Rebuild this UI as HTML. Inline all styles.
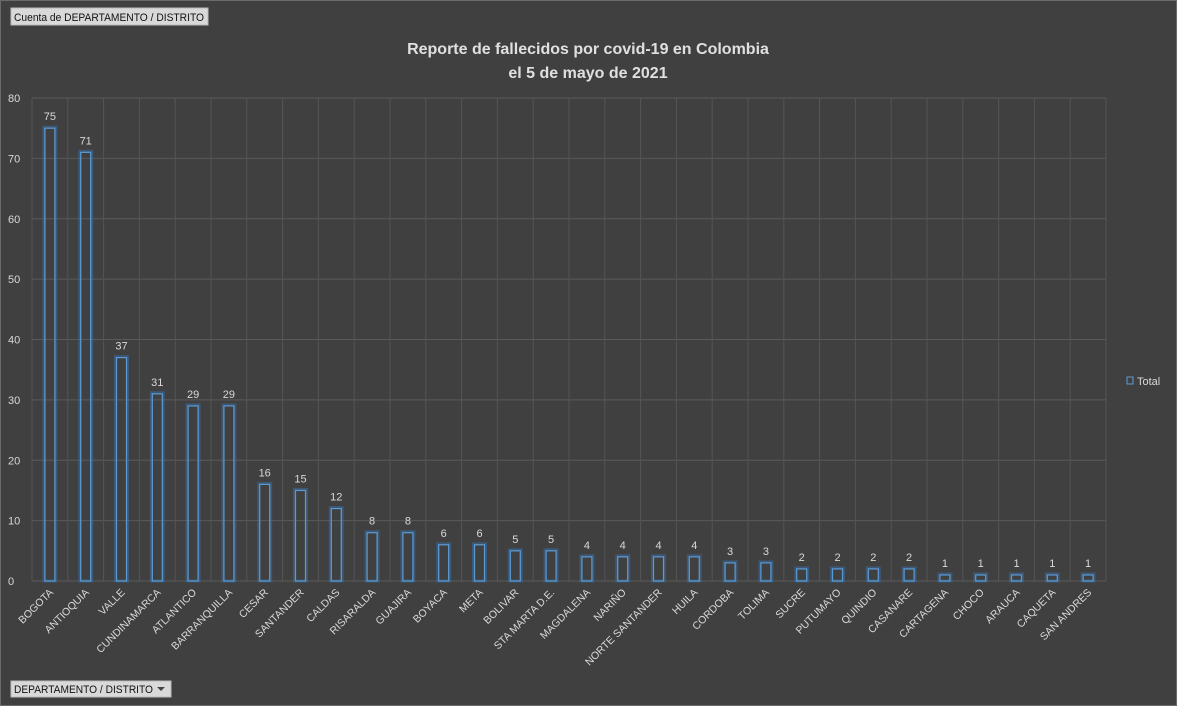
<!DOCTYPE html>
<html><head><meta charset="utf-8"><style>
html,body{margin:0;padding:0;background:#404040;}
svg{display:block;font-family:"Liberation Sans",sans-serif;}
</style></head><body>
<svg id="c" width="1177" height="706">
<rect x="0.5" y="0.5" width="1176" height="705" fill="#404040" stroke="#6a6a6a"/>
<g><rect x="11" y="8" width="197" height="17" fill="#d9d9d9" stroke="#bbb"/>
<text x="14" y="21" font-size="11" fill="#111" textLength="190" lengthAdjust="spacingAndGlyphs">Cuenta de DEPARTAMENTO / DISTRITO</text></g>
<text x="588" y="54" font-size="16" font-weight="bold" fill="#e0e0e0" text-anchor="middle">Reporte de fallecidos por covid-19 en Colombia</text>
<text x="588" y="78" font-size="16" font-weight="bold" fill="#e0e0e0" text-anchor="middle">el 5 de mayo de 2021</text>
<g id="grid"></g><g id="bars"></g><g id="labels"></g>
<g><rect x="1127" y="377" width="6" height="7" fill="none" stroke="#5b9bd5"/>
<text x="1137" y="385" font-size="11" fill="#d9d9d9">Total</text></g>
<g><rect x="11" y="681" width="160" height="16" fill="#d9d9d9" stroke="#bbb"/>
<text x="14" y="693" font-size="11" fill="#111" textLength="139" lengthAdjust="spacingAndGlyphs">DEPARTAMENTO / DISTRITO</text>
<path d="M157 687 L165 687 L161 691 Z" fill="#444"/></g>
</svg>
<script>
const categories=["BOGOTA","ANTIOQUIA","VALLE","CUNDINAMARCA","ATLANTICO","BARRANQUILLA","CESAR","SANTANDER","CALDAS","RISARALDA","GUAJIRA","BOYACA","META","BOLIVAR","STA MARTA D.E.","MAGDALENA","NARIÑO","NORTE SANTANDER","HUILA","CORDOBA","TOLIMA","SUCRE","PUTUMAYO","QUINDIO","CASANARE","CARTAGENA","CHOCO","ARAUCA","CAQUETA","SAN ANDRES"];
const values=[75,71,37,31,29,29,16,15,12,8,8,6,6,5,5,4,4,4,4,3,3,2,2,2,2,1,1,1,1,1];
const yTicks=[0,10,20,30,40,50,60,70,80];
const NS="http://www.w3.org/2000/svg";
const X0=32,X1=1106,Y0=581,Y1=98,YMAX=80;
const n=values.length, bw=(X1-X0)/n;
function xs(i){return X0+bw*(i+0.5);}
function ys(v){return Y0-(v/YMAX)*(Y0-Y1);}
function mk(t,a,p){const e=document.createElementNS(NS,t);for(const k in a)e.setAttribute(k,a[k]);p.appendChild(e);return e;}
const grid=document.getElementById('grid'),bars=document.getElementById('bars'),labels=document.getElementById('labels');
yTicks.forEach(t=>{
 const l=mk('line',{x1:X0,x2:X1,y1:ys(t),y2:ys(t),stroke:'#5a5a5a','stroke-width':1},grid);
 
 
 const tx=mk('text',{x:8,y:ys(t)+4,'font-size':11,fill:'#d9d9d9'},labels);tx.textContent=t;
 
 
});
for(let i=0;i<=n;i++){
 const l=mk('line',{x1:X0+bw*i,x2:X0+bw*i,y1:Y1,y2:Y0,stroke:'#555','stroke-width':1},grid);
 
 
}
values.forEach((v,i)=>{
 const cx=xs(i),y=ys(v);
 const g=mk('rect',{x:cx-6,y:y-1,width:12,height:Y0-y+1,fill:'none',stroke:'#3a6fa8','stroke-width':3,opacity:0.5},bars);
 
 
 const r=mk('rect',{x:cx-5,y:y,width:10,height:Y0-y,fill:'none',stroke:'#5b9bd5','stroke-width':1.2},bars);
 
 
 const t=mk('text',{x:cx,y:y-8,'font-size':11,fill:'#d9d9d9','text-anchor':'middle'},labels);t.textContent=v;
 
 
 const c=mk('text',{x:cx+4,y:593,'font-size':10.5,fill:'#d9d9d9','text-anchor':'end',transform:`rotate(-45 ${cx+4} 593)`},labels);c.textContent=categories[i];
 
 
});
</script>
</body></html>
